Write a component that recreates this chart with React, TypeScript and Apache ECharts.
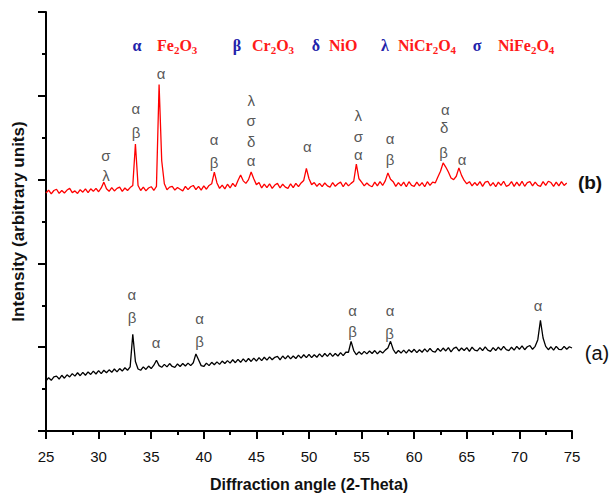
import React, { useEffect, useRef } from "react";
import * as echarts from "echarts";

// sampling of both patterns: 25° to 75°, every 0.25°
const ANGLE_START = 25;
const ANGLE_STEP = 0.25;

// (b) pattern, red — one row per degree (x.00, x.25, x.50, x.75)
const intensityB = [
  5.68, 5.75, 5.66, 5.74,
  5.77, 5.67, 5.74, 5.68,
  5.75, 5.79, 5.69, 5.73,
  5.67, 5.76, 5.70, 5.78,
  5.69, 5.78, 5.72, 5.79,
  5.71, 5.80, 5.94, 5.78,
  5.72, 5.81, 5.73, 5.79,
  5.82, 5.72, 5.80, 5.74,
  5.81, 5.86, 6.85, 5.86,
  5.74, 5.82, 5.73, 5.80,
  5.83, 5.74, 5.84, 8.27,
  6.45, 5.90, 5.76, 5.82,
  5.84, 5.75, 5.81, 5.77,
  5.73, 5.84, 5.76, 5.83,
  5.86, 5.76, 5.84, 5.75,
  5.85, 5.77, 5.86, 5.90,
  6.18, 5.92, 5.79, 5.87,
  5.78, 5.89, 5.80, 5.91,
  5.83, 5.98, 6.11, 5.97,
  5.91, 6.00, 6.18, 6.02,
  5.88, 5.93, 5.80, 5.89,
  5.81, 5.90, 5.79, 5.87,
  5.91, 5.80, 5.89, 5.82,
  5.79, 5.90, 5.81, 5.91,
  5.83, 5.92, 5.98, 6.27,
  6.02, 5.88, 5.93, 5.84,
  5.91, 5.83, 5.92, 5.85,
  5.82, 5.93, 5.84, 5.90,
  5.94, 5.83, 5.93, 5.85,
  5.91, 5.96, 6.37, 6.02,
  5.94, 5.85, 5.92, 5.86,
  5.83, 5.94, 5.85, 5.95,
  5.86, 5.97, 6.16, 6.01,
  5.95, 5.84, 5.93, 5.85,
  5.94, 5.83, 5.95, 5.86,
  5.84, 5.94, 5.85, 5.93,
  5.83, 5.95, 5.86, 5.94,
  5.92, 6.06, 6.20, 6.40,
  6.30, 6.18, 6.04, 6.00,
  6.08, 6.28, 6.10, 5.98,
  5.90, 5.95, 5.85, 5.93,
  5.86, 5.95, 5.84, 5.94,
  5.96, 5.85, 5.93, 5.83,
  5.94, 5.86, 5.96, 5.84,
  5.87, 5.95, 5.84, 5.94,
  5.85, 5.96, 5.84, 5.93,
  5.95, 5.85, 5.94, 5.86,
  5.84, 5.95, 5.86, 5.96,
  5.93, 5.84, 5.94, 5.85,
  5.95, 5.86, 5.92,
];

// (a) pattern, black
const intensityA = [
  1.20, 1.27, 1.21, 1.29,
  1.31, 1.24, 1.33, 1.26,
  1.34, 1.29, 1.37, 1.31,
  1.39, 1.32, 1.40, 1.33,
  1.41, 1.35, 1.43, 1.36,
  1.44, 1.37, 1.45, 1.39,
  1.46, 1.40, 1.48, 1.41,
  1.49, 1.43, 1.51, 1.45,
  1.53, 2.31, 1.66, 1.48,
  1.45, 1.53, 1.47, 1.55,
  1.49, 1.57, 1.69, 1.56,
  1.52, 1.59, 1.53, 1.61,
  1.54, 1.52, 1.60, 1.54,
  1.61, 1.55, 1.62, 1.56,
  1.63, 1.84, 1.70, 1.56,
  1.54, 1.62, 1.56, 1.64,
  1.58, 1.65, 1.59, 1.67,
  1.61, 1.68, 1.62, 1.70,
  1.63, 1.71, 1.64, 1.72,
  1.65, 1.73, 1.66, 1.74,
  1.67, 1.75, 1.68, 1.76,
  1.69, 1.77, 1.70, 1.76,
  1.78, 1.70, 1.79, 1.72,
  1.80, 1.72, 1.79, 1.73,
  1.81, 1.74, 1.82, 1.75,
  1.83, 1.75, 1.82, 1.76,
  1.84, 1.77, 1.85, 1.78,
  1.86, 1.78, 1.85, 1.79,
  1.87, 1.80, 1.88, 1.88,
  2.14, 1.92, 1.82, 1.89,
  1.83, 1.90, 1.84, 1.91,
  1.85, 1.92, 1.84, 1.91,
  1.86, 1.93, 1.98, 2.14,
  1.95, 1.85, 1.92, 1.86,
  1.93, 1.86, 1.94, 1.88,
  1.95, 1.87, 1.94, 1.88,
  1.96, 1.89, 1.97, 1.90,
  1.88, 1.97, 1.90, 1.98,
  1.91, 1.99, 1.89, 1.97,
  2.00, 1.91, 1.98, 1.92,
  1.99, 1.90, 2.00, 1.93,
  1.91, 1.99, 1.92, 2.01,
  1.93, 1.90, 1.99, 1.92,
  2.00, 1.93, 2.02, 1.94,
  1.92, 2.00, 1.93, 2.02,
  1.95, 2.03, 1.94, 2.01,
  2.04, 1.95, 2.02, 2.18,
  2.64, 2.22, 2.02, 1.94,
  2.01, 1.93, 2.02, 1.95,
  1.94, 2.02, 1.95, 2.01,
  1.98,
];

// phase letters above peaks: [angle, height, letter]
const peakLabelsB: [number, number, string][] = [
  [30.7, 6.57, "σ"], [30.7, 6.1, "λ"],
  [33.55, 7.69, "α"], [33.55, 7.12, "β"],
  [35.95, 8.53, "α"],
  [40.98, 6.96, "α"], [40.98, 6.4, "β"],
  [44.5, 7.89, "λ"], [44.5, 7.4, "σ"], [44.5, 6.92, "δ"], [44.5, 6.45, "α"],
  [49.84, 6.78, "α"],
  [54.69, 7.53, "λ"], [54.69, 7.04, "σ"], [54.69, 6.59, "α"],
  [57.7, 6.98, "α"], [57.7, 6.47, "β"],
  [62.95, 7.67, "α"], [62.85, 7.24, "δ"], [62.78, 6.65, "β"],
  [64.56, 6.47, "α"],
];
const peakLabelsA: [number, number, string][] = [
  [33.17, 3.26, "α"], [33.17, 2.7, "β"],
  [35.47, 2.11, "α"],
  [39.59, 2.69, "α"], [39.59, 2.14, "β"],
  [54.15, 2.88, "α"], [54.15, 2.37, "β"],
  [57.7, 2.88, "α"], [57.65, 2.33, "β"],
  [71.78, 3.0, "α"],
];

// legend: phase symbols and formula parts (normal, subscript alternating)
const phaseSymbols = ["α", "β", "δ", "λ", "σ"];
const phaseFormulas = [
  ["Fe", "2", "O", "3"],
  ["Cr", "2", "O", "3"],
  ["NiO"],
  ["NiCr", "2", "O", "4"],
  ["NiFe", "2", "O", "4"],
];
const symbolX = [137, 237, 316, 385, 477];
const formulaX = [157, 252, 329, 398, 498];

const xTitle = "Diffraction angle (2-Theta)";
const yTitle = "Intensity (arbitrary units)";

const toPairs = (vals: number[]) =>
  vals.map((v, i) => [ANGLE_START + i * ANGLE_STEP, v]);

export default function App() {
  const ref = useRef<HTMLDivElement>(null);
  useEffect(() => {
    if (!ref.current) return;
    const chart = echarts.init(ref.current, null, { renderer: "svg" });
    const serif = "'Liberation Serif', 'Times New Roman', serif";
    const sans = "'Liberation Sans', Arial, sans-serif";

    const legendGraphics: any[] = [];
    phaseSymbols.forEach((s, i) => {
      legendGraphics.push({
        type: "text",
        x: symbolX[i],
        y: 45,
        style: {
          text: s,
          fill: "#2222aa",
          fontSize: 16,
          fontWeight: "bold",
          fontFamily: serif,
          align: "center",
          verticalAlign: "middle",
        },
      });
      const parts = phaseFormulas[i];
      const txt = parts
        .map((p, k) => (k % 2 === 0 ? `{r|${p}}` : `{s|${p}}`))
        .join("");
      legendGraphics.push({
        type: "text",
        x: formulaX[i],
        y: 45,
        style: {
          text: txt,
          align: "left",
          verticalAlign: "middle",
          rich: {
            r: {
              fontSize: 16,
              fontWeight: "bold",
              fontFamily: serif,
              fill: "#ff1a1a",
              color: "#ff1a1a",
              lineHeight: 20,
            },
            s: {
              fontSize: 11,
              fontWeight: "bold",
              fontFamily: serif,
              fill: "#ff1a1a",
              color: "#ff1a1a",
              padding: [10, 0, 0, 0],
              lineHeight: 20,
            },
          },
        },
      });
    });

    const labelSeries = (data: [number, number, string][]) => ({
      type: "scatter",
      data,
      symbolSize: 0,
      silent: true,
      label: {
        show: true,
        position: "inside",
        formatter: (p: any) => p.data[2],
        color: "#2a2a2a",
        fontSize: 15,
        fontFamily: sans,
      },
      z: 5,
    });

    chart.setOption({
      animation: false,
      grid: { left: 46, right: 41, top: 12, bottom: 63, containLabel: false },
      xAxis: {
        type: "value",
        min: 25,
        max: 75,
        interval: 5,
        name: xTitle,
        nameLocation: "middle",
        nameGap: 45,
        nameTextStyle: {
          fontSize: 16,
          fontWeight: "bold",
          color: "#111",
          fontFamily: sans,
        },
        axisLine: { show: true, onZero: false, lineStyle: { color: "#000", width: 2 } },
        axisTick: { show: true, inside: false, length: 8, lineStyle: { color: "#000", width: 2 } },
        minorTick: { show: true, splitNumber: 2, length: 4, lineStyle: { color: "#000", width: 2 } },
        axisLabel: { fontSize: 15, color: "#111", margin: 18, fontFamily: sans },
        splitLine: { show: false },
      },
      yAxis: {
        type: "value",
        min: 0,
        max: 10,
        interval: 2,
        name: yTitle,
        nameLocation: "middle",
        nameRotate: 90,
        nameGap: 19,
        nameTextStyle: {
          fontSize: 17,
          fontWeight: "bold",
          color: "#111",
          fontFamily: sans,
        },
        axisLine: { show: true, onZero: false, lineStyle: { color: "#000", width: 2 } },
        axisTick: { show: true, inside: false, length: 8, lineStyle: { color: "#000", width: 2 } },
        minorTick: { show: true, splitNumber: 2, length: 4, lineStyle: { color: "#000", width: 2 } },
        axisLabel: { show: false },
        splitLine: { show: false },
      },
      graphic: [
        ...legendGraphics,
        {
          type: "text",
          x: 590,
          y: 182,
          style: {
            text: "(b)",
            fill: "#111",
            fontSize: 19,
            fontWeight: "bold",
            fontFamily: sans,
            align: "center",
            verticalAlign: "middle",
          },
        },
        {
          type: "text",
          x: 597,
          y: 353,
          style: {
            text: "(a)",
            fill: "#111",
            fontSize: 20,
            fontFamily: sans,
            align: "center",
            verticalAlign: "middle",
          },
        },
      ],
      series: [
        {
          type: "line",
          data: toPairs(intensityB),
          showSymbol: false,
          lineStyle: { color: "#ff0000", width: 1.3 },
          silent: true,
        },
        {
          type: "line",
          data: toPairs(intensityA),
          showSymbol: false,
          lineStyle: { color: "#000000", width: 1.3 },
          silent: true,
        },
        labelSeries(peakLabelsB),
        labelSeries(peakLabelsA),
      ],
    });
    return () => chart.dispose();
  }, []);
  return (
    <div
      ref={ref}
      style={{ position: "fixed", left: 0, top: 0, width: 613, height: 497, background: "#fff" }}
    />
  );
}
